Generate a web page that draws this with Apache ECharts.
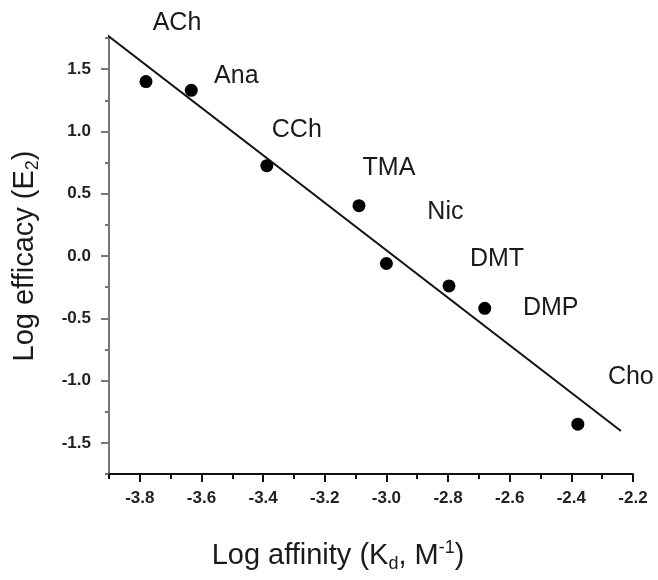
<!DOCTYPE html>
<html>
<head>
<meta charset="utf-8">
<script src="https://cdn.jsdelivr.net/npm/echarts@6/dist/echarts.min.js"></script>
<style>
  html, body { margin: 0; padding: 0; background: #fff; }
  #chart { width: 658px; height: 580px; }
</style>
</head>
<body>
<div id="chart"></div>
<script>
// compounds and values
const names = ['ACh', 'Ana', 'CCh', 'TMA', 'Nic', 'DMT', 'DMP', 'Cho'];
const logAffinity = [-3.78, -3.633, -3.388, -3.089, -3.0, -2.797, -2.681, -2.379];
const logEfficacy = [1.40, 1.33, 0.725, 0.404, -0.06, -0.24, -0.42, -1.35];

// fitted line end points
const fitX = [-3.918, -2.239];
const fitY = [1.797, -1.405];

// tick labels
const xTicks = [-3.8, -3.6, -3.4, -3.2, -3.0, -2.8, -2.6, -2.4, -2.2];
const yTicks = [-1.5, -1.0, -0.5, 0.0, 0.5, 1.0, 1.5];

const font = "'Liberation Sans', Arial, sans-serif";

// where each name sits relative to its dot (px)
const labelShift = [[31, -58], [45, -14], [30, -36], [30, -38], [59, -51], [48, -27], [66, 0], [53, -47]];

const points = names.map((n, i) => {
  return {
    name: n,
    value: [logAffinity[i], logEfficacy[i]],
    label: { offset: labelShift[i] },
  };
});

const fitLine = fitX.map((x, i) => [x, fitY[i]]);

const rich = {
  sub: { fontSize: 18, lineHeight: 10, verticalAlign: 'bottom', fontFamily: font, color: '#1a1a1a' },
  sup: { fontSize: 18, lineHeight: 30, verticalAlign: 'top', fontFamily: font, color: '#1a1a1a' },
};

const chart = echarts.init(document.getElementById('chart'));
chart.setOption({
  animation: false,
  backgroundColor: '#fff',
  grid: { left: 108, right: 25, top: 38, bottom: 106 },
  xAxis: [
    {
      type: 'value',
      min: -3.9,
      max: -2.2,
      interval: 0.1,
      position: 'bottom',
      splitLine: { show: false },
      axisLine: { onZero: false, lineStyle: { color: '#111', width: 2 } },
      axisTick: { customValues: xTicks, length: 8, lineStyle: { color: '#111', width: 2 } },
      axisLabel: {
        customValues: xTicks,
        formatter: (v) => v.toFixed(1),
        fontFamily: font,
        fontWeight: 'bold',
        fontSize: 17,
        color: '#222',
        margin: 16,
      },
      name: 'Log affinity (K{sub|d}, M{sup|-1})',
      nameLocation: 'middle',
      nameGap: 65,
      nameTextStyle: {
        fontFamily: font,
        fontSize: 29,
        lineHeight: 34,
        color: '#1a1a1a',
        padding: [0, 66, 0, 0],
        rich: rich,
      },
    },
    {
      // short ticks every 0.1
      type: 'value',
      min: -3.9,
      max: -2.2,
      interval: 0.1,
      position: 'bottom',
      splitLine: { show: false },
      axisLine: { show: false, onZero: false },
      axisTick: { length: 5, lineStyle: { color: '#111', width: 2 } },
      axisLabel: { show: false },
    },
  ],
  yAxis: [
    {
      type: 'value',
      min: -1.75,
      max: 1.75,
      interval: 0.25,
      splitLine: { show: false },
      axisLine: { show: true, onZero: false, lineStyle: { color: '#777', width: 2 } },
      axisTick: { show: true, customValues: yTicks, length: 8, lineStyle: { color: '#777', width: 2 } },
      axisLabel: {
        customValues: yTicks,
        formatter: (v) => v.toFixed(1),
        fontFamily: font,
        fontWeight: 'bold',
        fontSize: 17,
        color: '#222',
        margin: 18,
      },
      name: 'Log efficacy (E{sub|2})',
      nameLocation: 'middle',
      nameRotate: 90,
      nameGap: 67,
      nameTextStyle: {
        fontFamily: font,
        fontSize: 29,
        lineHeight: 34,
        color: '#1a1a1a',
        rich: rich,
      },
    },
    {
      // short ticks every 0.25
      type: 'value',
      min: -1.75,
      max: 1.75,
      interval: 0.25,
      position: 'left',
      splitLine: { show: false },
      axisLine: { show: false, onZero: false },
      axisTick: { show: true, length: 4, lineStyle: { color: '#777', width: 2 } },
      axisLabel: { show: false },
    },
  ],
  series: [
    {
      type: 'line',
      data: fitLine,
      showSymbol: false,
      clip: false,
      lineStyle: { color: '#111', width: 2 },
      z: 2,
    },
    {
      type: 'scatter',
      data: points,
      symbolSize: 13,
      itemStyle: { color: '#000', opacity: 1 },
      label: {
        show: true,
        position: 'inside',
        formatter: (p) => p.name,
        fontFamily: font,
        fontSize: 25,
        color: '#1a1a1a',
      },
      z: 3,
    },
  ],
});
</script>
</body>
</html>
